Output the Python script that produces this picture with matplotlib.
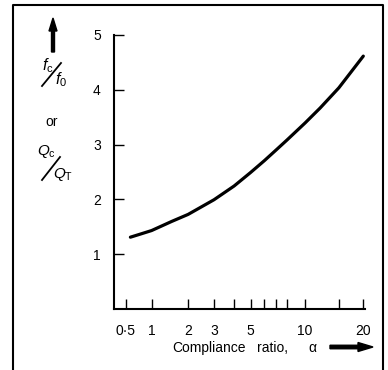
import numpy as np
import matplotlib
matplotlib.use("Agg")
import matplotlib.pyplot as plt
from matplotlib.patches import FancyArrow
from matplotlib.lines import Line2D

# ---- data ----
alpha = [0.58, 0.75, 1, 1.5, 2, 3, 4, 5, 6, 7, 8, 10, 12, 15, 20]
ratio = [1.313, 1.365, 1.434, 1.60, 1.728, 1.995, 2.245, 2.49, 2.707, 2.906,
         3.083, 3.393, 3.665, 4.032, 4.61]

x_major = [0.5, 1, 2, 3, 5, 10, 20]
x_major_labels = ["0·5", "1", "2", "3", "5", "10", "20"]
x_minor = [4, 6, 7, 8, 15]
y_ticks = [1, 2, 3, 4, 5]
y_tick_labels = ["1", "2", "3", "4", "5"]
x_label_words = ["Compliance", "ratio,", "α"]

plt.rcParams["font.family"] = ["Liberation Sans", "DejaVu Sans"]
plt.rcParams["mathtext.fontset"] = "custom"
plt.rcParams["mathtext.rm"] = "Liberation Sans"
plt.rcParams["mathtext.it"] = "Liberation Sans:italic"

W, H = 388, 370
fig = plt.figure(figsize=(W / 100, H / 100), dpi=100)
fig.patch.set_facecolor("white")

ax = fig.add_axes([114 / W, 1 - 309.3 / H, (365 - 114) / W, (309.3 - 34.7) / H])

fwd = lambda a: np.log10(np.maximum(1 + np.asarray(a, dtype=float), 1e-9))
inv = lambda v: 10 ** np.asarray(v, dtype=float) - 1
ax.set_xscale("function", functions=(fwd, inv))
ax.set_xlim(0.317, 20.4)
ax.set_ylim(0, 5)

ax.plot(alpha, ratio, color="black", lw=2.3, solid_capstyle="round",
        solid_joinstyle="round")

ax.set_xticks(x_major)
ax.set_xticklabels(x_major_labels)
ax.set_xticks(x_minor, minor=True)
ax.set_xticklabels([], minor=True)
ax.set_yticks(y_ticks)
ax.set_yticklabels(y_tick_labels)
ax.yaxis.set_minor_locator(matplotlib.ticker.NullLocator())

for s in ["top", "right"]:
    ax.spines[s].set_visible(False)
for s in ["left", "bottom"]:
    ax.spines[s].set_linewidth(1.5)

ax.tick_params(axis="both", which="both", direction="in", length=7, width=1.0,
               labelsize=10, colors="black")
ax.tick_params(axis="x", which="both", pad=10.5)
ax.tick_params(axis="y", which="both", pad=9.5)


def px(x, y):
    return x / W, 1 - y / H


# x label words and arrow
for word, xpos in zip(x_label_words, [172, 257, 308]):
    fig.text(*px(xpos, 352), word, ha="left", va="baseline", fontsize=10)

T = fig.dpi_scale_trans
fig.add_artist(FancyArrow(3.30, (H - 347) / 100, 0.43, 0, width=0.035,
                          head_width=0.09, head_length=0.15,
                          length_includes_head=True, color="black", transform=T))
# y arrow
fig.add_artist(FancyArrow(0.53, (H - 52) / 100, 0, 0.34, width=0.03,
                          head_width=0.08, head_length=0.13,
                          length_includes_head=True, color="black", transform=T))

# y label: fc/f0 or Qc/QT with slanted fraction bars
fig.text(*px(48, 66), r"$f_\mathrm{c}$", ha="center", va="center", fontsize=11.5)
fig.text(*px(61, 80), r"$f_0$", ha="center", va="center", fontsize=11.5)
fig.add_artist(Line2D([42 / 100, 61 / 100], [(H - 86) / 100, (H - 63) / 100],
                      color="black", lw=1.3, transform=T))
fig.text(*px(52, 122), "or", ha="center", va="center", fontsize=10)
fig.text(*px(46, 152), r"$Q_\mathrm{c}$", ha="center", va="center", fontsize=11)
fig.text(*px(63, 174), r"$Q_\mathrm{T}$", ha="center", va="center", fontsize=11)
fig.add_artist(Line2D([42 / 100, 60 / 100], [(H - 180) / 100, (H - 157) / 100],
                      color="black", lw=1.3, transform=T))

# frame border (open at the bottom)
fig.add_artist(Line2D([13.3 / 100, 13.3 / 100, 383.3 / 100, 383.3 / 100],
                      [-0.1, (H - 5) / 100, (H - 5) / 100, -0.1],
                      color="black", lw=1.5, transform=T))

fig.savefig("out.png", dpi=100)
